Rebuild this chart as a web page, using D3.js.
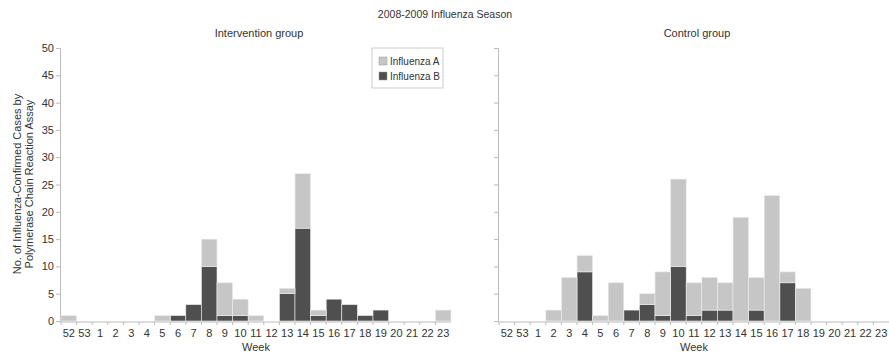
<!DOCTYPE html>
<html>
<head>
<meta charset="utf-8">
<script src="https://cdn.jsdelivr.net/npm/d3@7"></script>
<style>
  body { margin: 0; background: #fff; }
  text { font-family: "Liberation Sans", Arial, sans-serif; fill: #333; }
</style>
</head>
<body>
<svg width="889" height="353"></svg>
<script>
// weeks of the 2008-2009 season
var weeks = ["52", "53", "1", "2", "3", "4", "5", "6", "7", "8", "9", "10", "11", "12",
             "13", "14", "15", "16", "17", "18", "19", "20", "21", "22", "23"];

// intervention group
var intervA = [1, 0, 0, 0, 0, 0, 1, 0, 0, 5, 6, 3, 1, 0, 1, 10, 1, 0, 0, 0, 0, 0, 0, 0, 2];
var intervB = [0, 0, 0, 0, 0, 0, 0, 1, 3, 10, 1, 1, 0, 0, 5, 17, 1, 4, 3, 1, 2, 0, 0, 0, 0];

// control group
var controlA = [0, 0, 0, 2, 8, 3, 1, 7, 0, 2, 8, 16, 6, 6, 5, 19, 6, 23, 2, 6, 0, 0, 0, 0, 0];
var controlB = [0, 0, 0, 0, 0, 9, 0, 0, 2, 3, 1, 10, 1, 2, 2, 0, 2, 0, 7, 0, 0, 0, 0, 0, 0];

var yTicks = [0, 5, 10, 15, 20, 25, 30, 35, 40, 45, 50];
var seriesNames = ["Influenza A", "Influenza B"];
var colorA = "#c6c6c6", colorB = "#4f4f4f";

var svg = d3.select('svg');

var y = d3.scaleLinear().domain([0, 50]).range([321, 48]);

svg.append("text")
  .attr("x", 445).attr("y", 18)
  .attr("text-anchor", "middle")
  .style("font-size", "10.5px")
  .text("2008-2009 Influenza Season");

// y axis title
var yl = svg.append("text")
  .attr("transform", "translate(0,184) rotate(-90)")
  .attr("text-anchor", "middle")
  .style("font-size", "11px");
yl.append("tspan").attr("x", 0).attr("y", 21).text("No. of Influenza-Confirmed Cases by");
yl.append("tspan").attr("x", 0).attr("y", 33).text("Polymerase Chain Reaction Assay");

function drawPanel(left, title, dataA, dataB, showLabels) {
  var x = d3.scaleBand().domain(weeks).range([left, left + 390]).padding(0);
  var g = svg.append("g");

  g.append("text")
    .attr("x", left + 198).attr("y", 37)
    .attr("text-anchor", "middle")
    .style("font-size", "11px")
    .text(title);

  // y axis
  var yAxis = d3.axisLeft(y).tickValues(yTicks).tickSize(4).tickPadding(2)
    .tickFormat(showLabels ? d3.format("d") : "");
  var ya = g.append("g").attr("transform", "translate(" + (left - 1) + ",0)").call(yAxis);
  ya.select(".domain").attr("stroke", "#bbb");
  ya.selectAll(".tick line").attr("stroke", "#bbb");
  ya.selectAll(".tick text").style("font-size", "11px").attr("fill", "#333");

  // bars
  var rows = weeks.map(function(w, i) { return { week: w, a: dataA[i], b: dataB[i] }; });
  var stacked = d3.stack().keys(["b", "a"])(rows);
  g.selectAll("g.layer")
    .data(stacked)
    .enter().append("g")
      .attr("fill", function(d) { return d.key == "a" ? colorA : colorB; })
    .selectAll("rect")
    .data(function(d) { return d.filter(function(v) { return v[1] > v[0]; }); })
    .enter().append("rect")
      .attr("x", function(d) { return x(d.data.week); })
      .attr("width", x.bandwidth())
      .attr("y", function(d) { return y(d[1]); })
      .attr("height", function(d) { return y(d[0]) - y(d[1]); })
      .attr("stroke", "#eee")
      .attr("stroke-width", 0.6);

  // x axis: ticks at band edges, labels centered
  var xa = g.append("g").attr("transform", "translate(0," + (y(0) + 1) + ")");
  xa.append("line")
    .attr("x1", left - 1).attr("x2", left + 390)
    .attr("stroke", "#bbb");
  xa.selectAll("line.tk")
    .data(weeks)
    .enter().append("line")
      .attr("class", "tk")
      .attr("x1", function(d) { return x(d); })
      .attr("x2", function(d) { return x(d); })
      .attr("y1", 0).attr("y2", 3)
      .attr("stroke", "#bbb");
  xa.selectAll("text")
    .data(weeks)
    .enter().append("text")
      .attr("x", function(d) { return x(d) + x.bandwidth() / 2; })
      .attr("y", 15)
      .attr("text-anchor", "middle")
      .style("font-size", "11px")
      .text(function(d) { return d; });

  g.append("text")
    .attr("x", left + 195).attr("y", 351)
    .attr("text-anchor", "middle")
    .style("font-size", "11px")
    .text("Week");
}

drawPanel(61, "Intervention group", intervA, intervB, true);
drawPanel(499, "Control group", controlA, controlB, false);

// legend
var lg = svg.append("g").attr("transform", "translate(372,48)");
lg.append("rect")
  .attr("width", 71).attr("height", 40)
  .attr("fill", "#fff").attr("stroke", "#ccc");
lg.selectAll("rect.sw")
  .data(seriesNames)
  .enter().append("rect")
    .attr("class", "sw")
    .attr("x", 7).attr("y", function(d, i) { return 9 + i * 15; })
    .attr("width", 8).attr("height", 8)
    .attr("fill", function(d, i) { return i == 0 ? colorA : colorB; })
    .attr("stroke", "#999").attr("stroke-width", 0.5);
lg.selectAll("text")
  .data(seriesNames)
  .enter().append("text")
    .attr("x", 18).attr("y", function(d, i) { return 17 + i * 15; })
    .style("font-size", "10px")
    .text(function(d) { return d; });
</script>
</body>
</html>
